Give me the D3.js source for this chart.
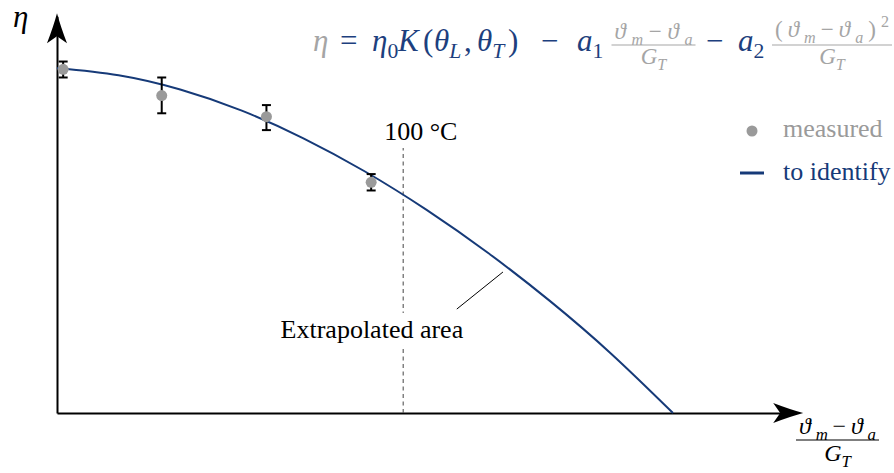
<!DOCTYPE html>
<html>
<head>
<meta charset="utf-8">
<script src="https://cdn.jsdelivr.net/npm/d3@7"></script>
</head>
<body style="margin:0;background:#fff">
<svg id="chart" width="894" height="473" style="font-family:'Liberation Serif'"></svg>
<script>
// Collector efficiency η against reduced temperature difference (ϑm − ϑa)/GT

// measured points with their error bars
const measuredX    = [0.001, 0.017, 0.034, 0.051];
const measuredEta  = [0.797, 0.736, 0.687, 0.535];
const measuredLow  = [0.778, 0.695, 0.656, 0.516];
const measuredHigh = [0.815, 0.778, 0.714, 0.554];

// efficiency curve to identify
const modelX   = [0, 0.01, 0.02, 0.03, 0.04, 0.05, 0.06, 0.07, 0.08, 0.09, 0.10];
const modelEta = [0.800, 0.783, 0.750, 0.701, 0.637, 0.560, 0.471, 0.371, 0.260, 0.137, 0.0];

// 100 °C limit and the extrapolation note
const limitX = 0.0562;
const limitLabel = "100 °C";
const areaLabel = "Extrapolated area";
const areaLabelPos = [0.0363, 0.174];
const areaLeader = [[0.0649, 0.241], [0.0724, 0.327]];

const legendLabels = ["measured", "to identify"];

const SERIF = "'Liberation Serif'";
const BLUE = "#163a78";
const GRAY = "#9a9a9a";
const F_BLUE = "#1d3f7e";
const F_GRAY = "#a5a5a5";

const svg = d3.select("#chart");

const x = d3.scaleLinear().domain([0, 0.12]).range([57, 57 + 0.12 * 6160]);
const y = d3.scaleLinear().domain([0, 0.92]).range([413, 413 - 0.92 * 431.25]);

// ---- axes (no ticks, arrow heads at the ends)
const gx = svg.append("g").attr("transform", `translate(0,${y(0)})`)
  .call(d3.axisBottom(x).tickValues([]).tickSizeOuter(0));
const gy = svg.append("g").attr("transform", `translate(${x(0)},0)`)
  .call(d3.axisLeft(y).tickValues([]).tickSizeOuter(0));
[gx, gy].forEach(g => g.select(".domain").attr("stroke", "#000").attr("stroke-width", 2));

const arrowPath = "M0,0 Q-13,-3.5 -30,-10 L-23,0 L-30,10 Q-13,3.5 0,0 Z";
svg.append("path").attr("d", arrowPath)
  .attr("transform", `translate(${x(0.12) + 7},${y(0)})`).attr("fill", "#000");
svg.append("path").attr("d", arrowPath)
  .attr("transform", `translate(${x(0)},${y(0.92) - 3}) rotate(-90)`).attr("fill", "#000");

// ---- text helpers
function label(sel, px, py, str, size, fill) {
  return sel.append("text").attr("x", px).attr("y", py)
    .style("font-family", SERIF).style("font-size", size + "px").attr("fill", fill).text(str);
}

function mathText(sel, px, py, parts, size, fill, anchor) {
  const t = sel.append("text").attr("x", px).attr("y", py)
    .style("font-family", SERIF).style("font-size", size + "px")
    .attr("fill", fill).attr("text-anchor", anchor || "start");
  let cur = 0;
  parts.forEach(p => {
    const off = p.sub ? size * 0.24 : p.sup ? -size * 0.42 : 0;
    const fs = (p.sub || p.sup) ? size * 0.7 : size;
    t.append("tspan").attr("dy", off - cur).style("font-size", fs + "px")
      .style("font-family", SERIF)
      .style("font-style", p.i ? "italic" : "normal").text(p.t);
    cur = off;
  });
  return t;
}

function fraction(sel, cx, barY, barW, num, den, size, fill, numGap, denGap) {
  const n = mathText(sel, cx, barY - numGap, num, size, fill, "middle");
  const w = n.node().getComputedTextLength();
  if (w < barW - 6) n.attr("textLength", barW - 6).attr("lengthAdjust", "spacing");
  sel.append("line").attr("x1", cx - barW / 2).attr("x2", cx + barW / 2)
    .attr("y1", barY).attr("y2", barY).attr("stroke", fill).attr("stroke-width", 1.2);
  mathText(sel, cx, barY + denGap, den, size, fill, "middle");
}

const numDiff = [{t: "ϑ", i: 1}, {t: "m", i: 1, sub: 1}, {t: "−"}, {t: "ϑ", i: 1}, {t: "a", i: 1, sub: 1}];
const numDiffSq = [{t: "("}, {t: "ϑ", i: 1}, {t: "m", i: 1, sub: 1}, {t: "−"}, {t: "ϑ", i: 1}, {t: "a", i: 1, sub: 1}, {t: ")"}, {t: "2", sup: 1}];
const denG = [{t: "G", i: 1}, {t: "T", i: 1, sub: 1}];

// ---- formula at the top
const fg = svg.append("g");
const base = 51, fs = 31;
const pieces = [
  {x: 313, parts: [{t: "η", i: 1}], c: F_GRAY},
  {x: 340, parts: [{t: "="}], c: F_BLUE},
  {x: 372, parts: [{t: "η", i: 1}, {t: "0", sub: 1}], c: F_BLUE},
  {x: 398, parts: [{t: "K", i: 1}], c: F_BLUE},
  {x: 423, parts: [{t: "("}], c: F_BLUE},
  {x: 434, parts: [{t: "θ", i: 1}, {t: "L", i: 1, sub: 1}], c: F_BLUE},
  {x: 464, parts: [{t: ","}], c: F_BLUE},
  {x: 477, parts: [{t: "θ", i: 1}, {t: "T", i: 1, sub: 1}], c: F_BLUE},
  {x: 508, parts: [{t: ")"}], c: F_BLUE},
  {x: 541, parts: [{t: "−"}], c: F_BLUE},
  {x: 577, parts: [{t: "a", i: 1}, {t: "1", sub: 1}], c: F_BLUE},
  {x: 706, parts: [{t: "−"}], c: F_BLUE},
  {x: 738, parts: [{t: "a", i: 1}, {t: "2", sub: 1}], c: F_BLUE}
];
pieces.forEach(p => mathText(fg, p.x, base, p.parts, fs, p.c));
fraction(fg, 653.5, 45, 84, numDiff, denG, 23, F_GRAY, 6, 19);
fraction(fg, 832, 45, 120, numDiffSq, denG, 23, F_GRAY, 8, 19);

// ---- axis labels
mathText(svg, 13, 27, [{t: "η", i: 1}], 31, "#000");
fraction(svg, 837.5, 440, 83, numDiff, denG, 24, "#000", 6, 21);

// ---- 100 °C limit
svg.append("line")
  .attr("x1", x(limitX)).attr("x2", x(limitX))
  .attr("y1", y(0)).attr("y2", 148)
  .attr("stroke", "#555").attr("stroke-width", 1.1).attr("stroke-dasharray", "4,3.5");
label(svg, x(limitX) - 19, 140, limitLabel, 26, "#000");

// ---- extrapolated area note
svg.append("line")
  .attr("x1", x(areaLeader[0][0])).attr("y1", y(areaLeader[0][1]))
  .attr("x2", x(areaLeader[1][0])).attr("y2", y(areaLeader[1][1]))
  .attr("stroke", "#000").attr("stroke-width", 1);
const noteBg = svg.append("rect").attr("fill", "#fff");
const note = label(svg, x(areaLabelPos[0]), y(areaLabelPos[1]), areaLabel, 26, "#000");
const nb = note.node().getBBox();
noteBg.attr("x", nb.x - 3).attr("y", nb.y - 2).attr("width", nb.width + 6).attr("height", nb.height + 4);

// ---- model curve
const curvePts = modelX.map((v, i) => [v, modelEta[i]]);
svg.append("path").datum(curvePts)
  .attr("d", d3.line().x(d => x(d[0])).y(d => y(d[1])).curve(d3.curveNatural))
  .attr("fill", "none").attr("stroke", BLUE).attr("stroke-width", 2);

// ---- measured points with error bars
const meas = measuredX.map((v, i) => ({x: v, eta: measuredEta[i], lo: measuredLow[i], hi: measuredHigh[i]}));
const eb = svg.append("g").attr("stroke", "#000").attr("stroke-width", 2);
meas.forEach(d => {
  eb.append("line").attr("x1", x(d.x)).attr("x2", x(d.x)).attr("y1", y(d.lo)).attr("y2", y(d.hi));
  [d.lo, d.hi].forEach(v => eb.append("line")
    .attr("x1", x(d.x) - 4.5).attr("x2", x(d.x) + 4.5).attr("y1", y(v)).attr("y2", y(v)));
});
svg.append("g").selectAll("circle").data(meas).join("circle")
  .attr("cx", d => x(d.x)).attr("cy", d => y(d.eta)).attr("r", 5.5).attr("fill", GRAY);

// ---- legend
const lg = svg.append("g");
lg.append("circle").attr("cx", 752).attr("cy", 131).attr("r", 5.5).attr("fill", GRAY);
label(lg, 783, 137, legendLabels[0], 26, GRAY);
lg.append("line").attr("x1", 740).attr("x2", 764).attr("y1", 173).attr("y2", 173)
  .attr("stroke", BLUE).attr("stroke-width", 3);
label(lg, 783, 180, legendLabels[1], 26, BLUE);
</script>
</body>
</html>
